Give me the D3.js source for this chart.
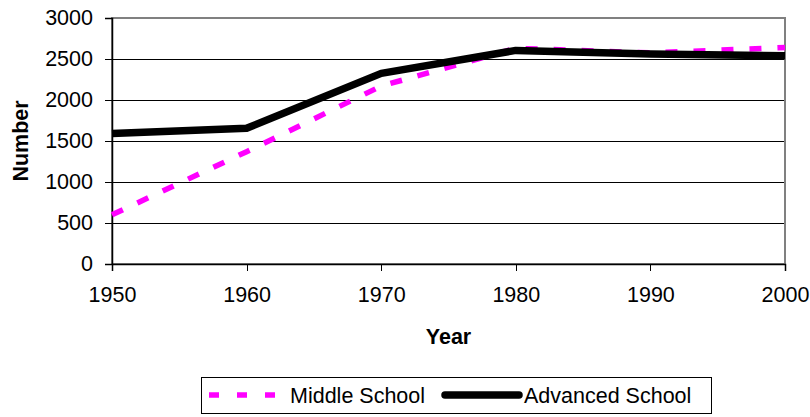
<!DOCTYPE html>
<html>
<head>
<meta charset="utf-8">
<script src="https://cdn.jsdelivr.net/npm/d3@7"></script>
<style>
  body { margin: 0; background: #fff; }
  svg { display: block; font-family: "Liberation Sans", Arial, sans-serif; }
</style>
</head>
<body>
<script>
const years = [1950, 1960, 1970, 1980, 1990, 2000];
const middleSchool = [600, 1370, 2170, 2630, 2575, 2640];
const advancedSchool = [1590, 1655, 2325, 2605, 2560, 2540];
const yTicks = [0, 500, 1000, 1500, 2000, 2500, 3000];
const seriesNames = ['Middle School', 'Advanced School'];

const width = 810;
const height = 417;
const margin = { top: 18, right: 25, bottom: 153, left: 112 };
const fontSize = 21.5;

const svg = d3.select('body')
  .append('svg')
  .attr('width', width)
  .attr('height', height);

const x = d3.scaleLinear()
  .domain([1950, 2000])
  .range([margin.left, width - margin.right]);

const y = d3.scaleLinear()
  .domain([0, 3000])
  .range([height - margin.bottom, margin.top]);

// gridlines
svg.append('g')
  .attr('shape-rendering', 'crispEdges')
  .selectAll('line')
  .data(yTicks.filter(d => d > 0 && d < 3000))
  .enter()
  .append('line')
  .attr('x1', x(1950))
  .attr('x2', x(2000))
  .attr('y1', d => y(d) + 0.5)
  .attr('y2', d => y(d) + 0.5)
  .attr('stroke', '#000')
  .attr('stroke-width', 1);

// plot area border (top and right grey)
svg.append('rect')
  .attr('x', x(1950))
  .attr('y', y(3000))
  .attr('width', x(2000) - x(1950))
  .attr('height', y(0) - y(3000))
  .attr('fill', 'none')
  .attr('stroke', '#808080')
  .attr('stroke-width', 2);

const yAxis = svg.append('g')
  .attr('transform', `translate(${ x(1950) },0)`)
  .call(d3.axisLeft(y).tickValues(yTicks).tickSize(7).tickPadding(12).tickFormat(d3.format('d')));

const xAxis = svg.append('g')
  .attr('transform', `translate(0,${ y(0) })`)
  .call(d3.axisBottom(x).tickValues(years).tickSize(7).tickPadding(16).tickFormat(d3.format('d')));

[yAxis, xAxis].forEach(axis => {
  axis.select('.domain').attr('stroke', '#000').attr('stroke-width', 1.5);
  axis.selectAll('.tick line').attr('stroke', '#000').attr('shape-rendering', 'crispEdges');
  axis.selectAll('.tick text')
    .attr('fill', '#000')
    .style('font-size', `${ fontSize }px`)
    .style('font-family', '"Liberation Sans", Arial, sans-serif');
});

const line = d3.line()
  .x((d, i) => x(years[i]))
  .y(d => y(d));

svg.append('path')
  .datum(middleSchool)
  .attr('d', line)
  .attr('fill', 'none')
  .attr('stroke', '#ff00ff')
  .attr('stroke-width', 5.5)
  .attr('stroke-dasharray', '12,16');

svg.append('path')
  .datum(advancedSchool)
  .attr('d', line)
  .attr('fill', 'none')
  .attr('stroke', '#000')
  .attr('stroke-width', 7.5)
  .attr('stroke-linejoin', 'round');

// axis titles
svg.append('text')
  .attr('x', (x(1950) + x(2000)) / 2)
  .attr('y', 344)
  .attr('text-anchor', 'middle')
  .style('font-size', `${ fontSize }px`)
  .style('font-weight', 'bold')
  .text('Year');

svg.append('text')
  .attr('transform', `translate(28,${ (y(0) + y(3000)) / 2 }) rotate(-90)`)
  .attr('text-anchor', 'middle')
  .style('font-size', `${ fontSize }px`)
  .style('font-weight', 'bold')
  .text('Number');

// legend
const legend = svg.append('g');

legend.append('rect')
  .attr('x', 201.5)
  .attr('y', 377.5)
  .attr('width', 510)
  .attr('height', 36)
  .attr('fill', '#fff')
  .attr('stroke', '#000')
  .attr('stroke-width', 1);

const legendItems = [
  { name: seriesNames[0], x1: 209, x2: 283, tx: 290, color: '#ff00ff', w: 5.5, dash: '10,18', cap: 'butt' },
  { name: seriesNames[1], x1: 445, x2: 519, tx: 524, color: '#000', w: 7.5, dash: null, cap: 'round' }
];

legendItems.forEach(item => {
  legend.append('line')
    .attr('x1', item.x1)
    .attr('x2', item.x2)
    .attr('y1', 395)
    .attr('y2', 395)
    .attr('stroke', item.color)
    .attr('stroke-width', item.w)
    .attr('stroke-linecap', item.cap)
    .attr('stroke-dasharray', item.dash);

  legend.append('text')
    .attr('x', item.tx)
    .attr('y', 402.5)
    .style('font-size', `${ fontSize }px`)
    .text(item.name);
});
</script>
</body>
</html>
